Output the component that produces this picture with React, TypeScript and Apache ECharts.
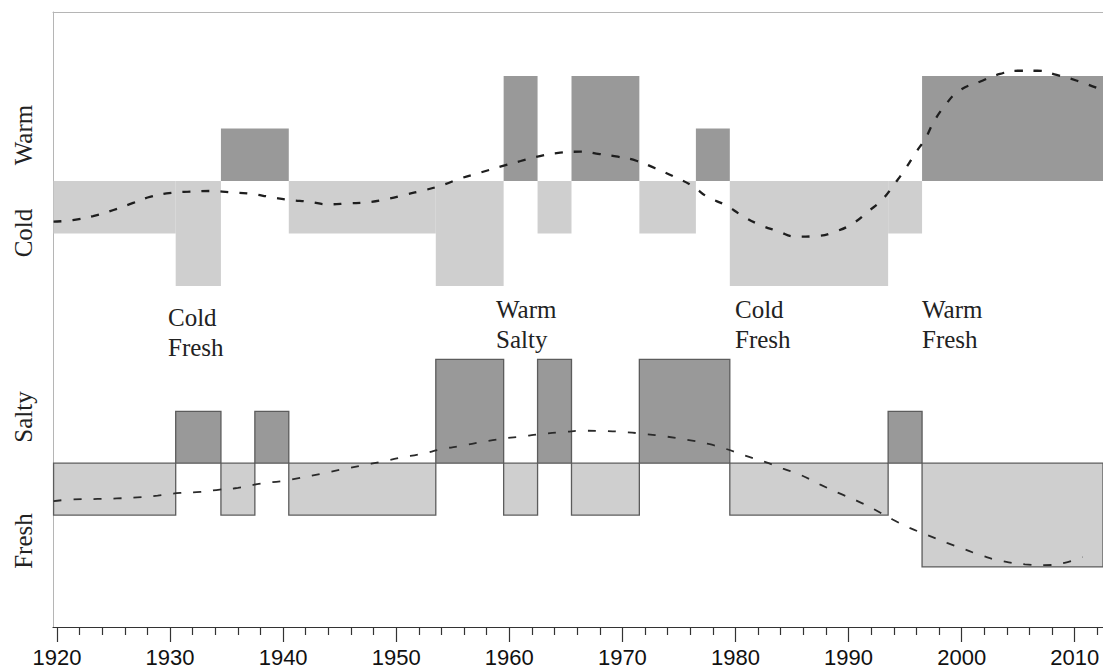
import React, { useEffect, useRef } from "react";
import * as echarts from "echarts";

// ---- Data ----
const X_MIN = 1919.65;
const X_MAX = 2012.5;

const tickYears = [1920, 1930, 1940, 1950, 1960, 1970, 1980, 1990, 2000, 2010];
const minorTickYears = [
  1922, 1924, 1926, 1928, 1932, 1934, 1936, 1938, 1942, 1944, 1946, 1948,
  1952, 1954, 1956, 1958, 1962, 1964, 1966, 1968, 1972, 1974, 1976, 1978,
  1982, 1984, 1986, 1988, 1992, 1994, 1996, 1998, 2002, 2004, 2006, 2008, 2012,
];

// Temperature regime periods (Warm > 0, Cold < 0)
const tempStart = [1919.7, 1930.5, 1934.5, 1940.5, 1953.5, 1959.5, 1962.5, 1965.5, 1971.5, 1976.5, 1979.5, 1993.5, 1996.5];
const tempEnd = [1930.5, 1934.5, 1940.5, 1953.5, 1959.5, 1962.5, 1965.5, 1971.5, 1976.5, 1979.5, 1993.5, 1996.5, 2012.5];
const tempValue = [-1, -2, 1, -1, -2, 2, -1, 2, -1, 1, -2, -1, 2];

// Salinity regime periods (Salty > 0, Fresh < 0)
const salStart = [1919.7, 1930.5, 1934.5, 1937.5, 1940.5, 1953.5, 1959.5, 1962.5, 1965.5, 1971.5, 1979.5, 1993.5, 1996.5];
const salEnd = [1930.5, 1934.5, 1937.5, 1940.5, 1953.5, 1959.5, 1962.5, 1965.5, 1971.5, 1979.5, 1993.5, 1996.5, 2012.5];
const salValue = [-1, 1, -1, 1, -1, 2, -1, 2, -1, 2, -1, 1, -2];

// Smoothed temperature index (dashed curve, top panel)
const tempCurveYears = [
  1919.7, 1921.4, 1923.2, 1925.0, 1926.8, 1928.3, 1930.2, 1931.8, 1933.6, 1935.3,
  1937.1, 1938.9, 1940.6, 1942.3, 1944.0, 1945.8, 1947.4, 1949.2, 1950.9, 1952.6,
  1954.1, 1955.8, 1957.4, 1959.2, 1961.0, 1962.7, 1964.5, 1966.3, 1968.0, 1969.6,
  1971.3, 1972.9, 1974.7, 1976.2, 1977.5, 1979.1, 1980.6, 1982.0, 1983.7, 1985.4,
  1987.2, 1988.8, 1990.4, 1991.7, 1993.0, 1994.1, 1995.0, 1995.9, 1996.8, 1997.5,
  1998.5, 1999.8, 2001.6, 2003.4, 2005.0, 2006.7, 2008.4, 2010.2, 2012.0,
];
const tempCurveValues = [
  -0.775, -0.743, -0.667, -0.552, -0.413, -0.299, -0.223, -0.204, -0.19, -0.215,
  -0.242, -0.305, -0.362, -0.394, -0.444, -0.425, -0.406, -0.343, -0.254, -0.17,
  -0.076, 0.057, 0.158, 0.272, 0.381, 0.476, 0.539, 0.558, 0.514, 0.463,
  0.381, 0.242, 0.07, -0.095, -0.299, -0.457, -0.661, -0.819, -0.952, -1.061,
  -1.048, -0.966, -0.806, -0.585, -0.349, -0.044, 0.223, 0.528, 0.813, 1.11,
  1.43, 1.72, 1.89, 2.04, 2.1, 2.1, 2.02, 1.91, 1.77,
];

// Smoothed salinity index (dashed curve, bottom panel)
const salCurveYears = [
  1919.7, 1921.4, 1923.6, 1925.3, 1927.1, 1928.9, 1930.9, 1932.7, 1934.4, 1936.0,
  1938.0, 1939.9, 1941.5, 1943.4, 1945.1, 1946.9, 1948.7, 1950.4, 1952.2, 1954.1,
  1955.8, 1957.6, 1959.4, 1961.1, 1962.9, 1964.8, 1966.7, 1968.5, 1970.2, 1972.0,
  1973.8, 1975.7, 1977.5, 1979.1, 1980.8, 1982.6, 1984.2, 1985.7, 1987.5, 1989.1,
  1990.7, 1992.3, 1993.9, 1995.4, 1997.0, 1998.7, 2000.3, 2001.9, 2003.6, 2005.6,
  2007.3, 2009.1, 2010.7,
];
const salCurveValues = [
  -0.73, -0.7, -0.69, -0.68, -0.66, -0.625, -0.573, -0.554, -0.51, -0.477,
  -0.394, -0.345, -0.285, -0.202, -0.125, -0.048, 0.029, 0.106, 0.177, 0.273,
  0.337, 0.408, 0.471, 0.515, 0.562, 0.6, 0.625, 0.619, 0.6, 0.562,
  0.515, 0.452, 0.375, 0.279, 0.15, 0.023, -0.106, -0.221, -0.413, -0.573,
  -0.721, -0.894, -1.087, -1.246, -1.388, -1.535, -1.663, -1.79, -1.888, -1.95,
  -1.965, -1.92, -1.81,
];

const panelLabels = ["Warm", "Cold", "Salty", "Fresh"];
const regimeLabels = ["Cold\nFresh", "Warm\nSalty", "Cold\nFresh", "Warm\nFresh"];

// ---- Styles ----
const DARK = "#999999";
const LIGHT = "#cfcfcf";
const SERIF = "'Liberation Serif', 'Times New Roman', serif";
const SANS = "'Liberation Sans', Arial, sans-serif";

export default function App() {
  const ref = useRef<HTMLDivElement | null>(null);

  useEffect(() => {
    if (!ref.current) return;
    const chart = echarts.init(ref.current, undefined, { renderer: "svg" });

    const tempData = tempStart.map((s, i) => [s, tempEnd[i], tempValue[i]]);
    const salData = salStart.map((s, i) => [s, salEnd[i], salValue[i]]);
    const tempLine = tempCurveYears.map((y, i) => [y, tempCurveValues[i]]);
    const salLine = salCurveYears.map((y, i) => [y, salCurveValues[i]]);

    const makeRender = (bordered: boolean) => (params: any, api: any) => {
      const v = api.value(2);
      const p0 = api.coord([api.value(0), v]);
      const p1 = api.coord([api.value(1), 0]);
      return {
        type: "rect",
        shape: {
          x: p0[0],
          y: Math.min(p0[1], p1[1]),
          width: p1[0] - p0[0],
          height: Math.abs(p1[1] - p0[1]),
        },
        style: {
          fill: v > 0 ? DARK : LIGHT,
          stroke: bordered ? "#5c5c5c" : null,
          lineWidth: bordered ? 1.3 : 0,
        },
      };
    };

    const labelPos = [
      { x: 23, y: 135 },
      { x: 23, y: 233 },
      { x: 23, y: 417 },
      { x: 23, y: 541 },
    ];
    const regimePos = [
      { x: 168, y: 303 },
      { x: 496, y: 295 },
      { x: 735, y: 295 },
      { x: 922, y: 295 },
    ];

    const graphics: any[] = [];
    panelLabels.forEach((t, i) => {
      graphics.push({
        type: "text",
        x: labelPos[i].x,
        y: labelPos[i].y,
        rotation: Math.PI / 2,
        style: {
          text: t,
          fill: "#222",
          font: `25px ${SERIF}`,
          align: "center",
          verticalAlign: "middle",
          textAlign: "center",
          textVerticalAlign: "middle",
        },
      });
    });
    regimeLabels.forEach((t, i) => {
      graphics.push({
        type: "text",
        x: regimePos[i].x,
        y: regimePos[i].y,
        style: {
          text: t,
          fill: "#222",
          font: `25px ${SERIF}`,
          lineHeight: 29.5,
          align: "left",
          verticalAlign: "top",
          textAlign: "left",
          textVerticalAlign: "top",
        },
      });
    });

    const hiddenY = {
      type: "value",
      axisLine: { show: true, onZero: false, lineStyle: { color: "#b5b5b5", width: 1 } },
      axisTick: { show: false },
      axisLabel: { show: false },
      splitLine: { show: false },
    };

    chart.setOption({
      animation: false,
      backgroundColor: "#ffffff",
      grid: [
        { left: 53, right: 0, top: 12, height: 299 },
        { left: 53, right: 0, top: 311, height: 316.5 },
      ],
      xAxis: [
        {
          gridIndex: 0,
          type: "value",
          min: X_MIN,
          max: X_MAX,
          position: "top",
          axisLine: { show: true, onZero: false, lineStyle: { color: "#b5b5b5", width: 1 } },
          axisTick: { show: false },
          axisLabel: { show: false },
          splitLine: { show: false },
        },
        {
          gridIndex: 1,
          type: "value",
          min: X_MIN,
          max: X_MAX,
          position: "bottom",
          axisLine: { show: true, onZero: false, lineStyle: { color: "#333", width: 1.2 } },
          axisTick: {
            show: true,
            customValues: tickYears,
            length: 15,
            lineStyle: { color: "#333", width: 1.2 },
          },
          axisLabel: {
            show: true,
            customValues: tickYears,
            formatter: (v: number) => String(v),
            fontFamily: SANS,
            fontSize: 22,
            color: "#111",
            margin: 19,
          },
          splitLine: { show: false },
        },
        {
          gridIndex: 1,
          type: "value",
          min: X_MIN,
          max: X_MAX,
          position: "bottom",
          axisLine: { show: false, onZero: false },
          axisTick: {
            show: true,
            customValues: minorTickYears,
            length: 8,
            lineStyle: { color: "#333", width: 1.2 },
          },
          axisLabel: { show: false },
          splitLine: { show: false },
        },
      ],
      yAxis: [
        { ...hiddenY, gridIndex: 0, min: -2.476, max: 3.219 },
        { ...hiddenY, gridIndex: 1, min: -3.158, max: 2.933 },
      ],
      graphic: graphics,
      series: [
        {
          type: "custom",
          name: "Temperature regime",
          xAxisIndex: 0,
          yAxisIndex: 0,
          renderItem: makeRender(false),
          encode: { x: [0, 1], y: 2 },
          data: tempData,
          z: 2,
        },
        {
          type: "custom",
          name: "Salinity regime",
          xAxisIndex: 1,
          yAxisIndex: 1,
          renderItem: makeRender(true),
          encode: { x: [0, 1], y: 2 },
          data: salData,
          z: 2,
        },
        {
          type: "line",
          name: "Temperature index",
          xAxisIndex: 0,
          yAxisIndex: 0,
          data: tempLine,
          smooth: true,
          symbol: "none",
          lineStyle: { color: "#1e1e1e", width: 2.3, type: [8, 11] },
          z: 5,
        },
        {
          type: "line",
          name: "Salinity index",
          xAxisIndex: 1,
          yAxisIndex: 1,
          data: salLine,
          smooth: true,
          symbol: "none",
          lineStyle: { color: "#2a2a2a", width: 1.8, type: [8, 12] },
          z: 5,
        },
      ],
    });

    return () => {
      chart.dispose();
    };
  }, []);

  return (
    <div
      ref={ref}
      style={{ position: "absolute", left: 0, top: 0, width: 1103, height: 668, background: "#fff" }}
    />
  );
}
